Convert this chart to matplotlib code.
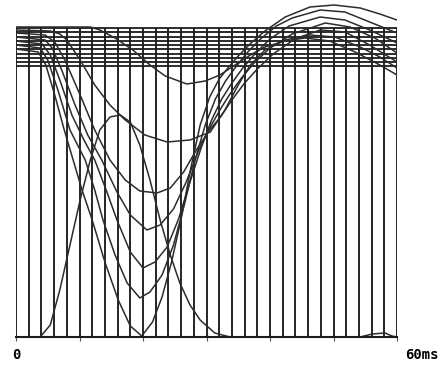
import matplotlib
matplotlib.use('Agg')
import matplotlib.pyplot as plt
import numpy as np

# time in ms, level in arbitrary units (0 = baseline, 309 = top of grid)
grid_t = np.arange(0, 61, 2)
grid_levels = [309, 305, 300, 296, 292, 288, 283, 279, 275, 271]
tick_t = [0, 10, 20, 30, 40, 50, 60]

# dipping curves, from deepest to shallowest
c8_t = [0, 3.5, 4.7, 6.1, 7.6, 9.0, 10.4, 12.0, 14.0, 16.1, 18.0, 19.8, 21.5, 23.0, 24.5,
        26.0, 27.5, 29.0, 30.5, 32.0, 33.5, 35.0, 37.0, 39.2, 42.4, 46.3, 50.1, 54.2, 57.3, 60]
c8_h = [288, 285, 272, 242, 207, 177, 147, 117, 75, 37, 11, 1, 15, 40, 75,
        118, 168, 212, 240, 258, 270, 281, 294, 306, 320, 330, 332, 329, 323, 317]

c7_t = [0, 3.8, 5.0, 6.6, 8.5, 10.9, 12.4, 13.7, 15.6, 17.5, 19.5, 21.1, 23.0, 24.8, 26.5,
        28.2, 29.8, 31.4, 33.0, 34.6, 36.5, 38.5, 41.0, 43.5, 47.9, 51.8, 55.7, 60]
c7_h = [292, 289, 277, 247, 207, 177, 147, 117, 82, 54, 39, 45, 62, 92, 132,
        177, 212, 238, 256, 270, 285, 298, 311, 319, 327, 325, 315, 304]

c6_t = [0, 4.1, 5.4, 6.9, 8.8, 10.7, 12.4, 14.2, 15.9, 18.0, 20.0, 21.9, 23.8, 25.6, 27.4,
        29.2, 30.8, 32.4, 34.0, 35.6, 37.6, 40.0, 43.0, 47.9, 51.8, 55.7, 60]
c6_h = [296, 293, 282, 257, 222, 197, 177, 147, 117, 85, 69, 75, 90, 118, 155,
        190, 217, 238, 254, 268, 283, 298, 311, 320, 317, 307, 294]

c5_t = [0, 4.6, 5.7, 7.2, 9.3, 11.3, 13.5, 15.9, 18.0, 20.6, 22.7, 24.8, 26.8, 28.8, 30.6,
        32.2, 33.8, 35.5, 37.5, 40.0, 43.5, 48.7, 52.6, 56.5, 60]
c5_h = [300, 297, 289, 267, 232, 202, 177, 145, 122, 107, 112, 128, 155, 187, 210,
        228, 244, 259, 274, 289, 303, 314, 310, 299, 284]

c4_t = [0, 4.6, 6.1, 7.7, 10.1, 12.4, 14.8, 17.2, 19.5, 22.2, 24.3, 26.4, 28.5, 30.5, 32.2,
        34.0, 36.0, 38.0, 40.5, 43.9, 47.9, 51.8, 55.7, 60]
c4_h = [304, 302, 295, 277, 242, 207, 177, 157, 146, 144, 149, 165, 188, 207, 220,
        237, 254, 268, 283, 298, 307, 305, 292, 275]

c2_t = [0, 5.4, 6.9, 8.0, 10.1, 12.4, 14.8, 17.2, 20.3, 23.8, 27.4, 30.6, 32.9, 35.0, 36.9,
        39.2, 42.4, 46.3, 50.2, 54.2, 57.3, 60]
c2_h = [307, 306, 303, 297, 277, 252, 232, 217, 202, 195, 197, 205, 227, 252, 272,
        287, 297, 302, 300, 290, 280, 269]

s_t = [0, 11.7, 13.2, 15.6, 18.4, 21.1, 23.5, 26.9, 29.8, 32.1, 34.5, 36.9, 39.2, 42.4,
       45.5, 49.4, 53.4, 57.3, 60]
s_h = [310, 310, 307, 299, 287, 272, 261, 253, 256, 262, 272, 282, 290, 296,
       299, 296, 285, 272, 262]

# single bump rising from the baseline
b_t = [0, 3.8, 5.4, 6.9, 8.5, 10.1, 11.7, 13.2, 14.8, 16.4, 18.0, 19.5, 21.1, 22.7, 24.3,
       25.8, 27.4, 29.0, 31.3, 33.7, 54.2, 56.1, 58.1, 59.2, 60]
b_h = [0, 0, 12, 47, 92, 137, 177, 207, 220, 222, 215, 192, 157, 117, 82,
       54, 32, 17, 4, 0, 0, 3, 4, 1, 0]

curves = [(c8_t, c8_h), (c7_t, c7_h), (c6_t, c6_h), (c5_t, c5_h),
          (c4_t, c4_h), (c2_t, c2_h), (s_t, s_h), (b_t, b_h)]

fig = plt.figure(figsize=(4.42, 3.66), dpi=100)
ax = fig.add_axes([16 / 442, 29 / 366, 381 / 442, 337 / 366])
ax.set_xlim(0, 60)
ax.set_ylim(0, 337)

grid_col = '#1c1c1c'
ax.vlines(grid_t, 0, 309, color=grid_col, linewidth=1.35)
ax.hlines(grid_levels, 0, 60, color=grid_col, linewidth=1.3)

for t, h in curves:
    ax.plot(t, h, color='#2c2c2c', linewidth=1.1, solid_joinstyle='round')

for s in ['top', 'right', 'left']:
    ax.spines[s].set_visible(False)
ax.spines['bottom'].set_color(grid_col)
ax.spines['bottom'].set_linewidth(1.5)
ax.set_yticks([])
ax.set_xticks(tick_t)
ax.set_xticklabels([])
ax.tick_params(axis='x', direction='out', length=3, width=0.8, colors='#555555')

ax.text(0, -18, '0', ha='center', va='center', fontsize=10,
        family='DejaVu Sans Mono', fontweight='bold', clip_on=False)
ax.text(61.3, -18, '60ms', ha='left', va='center', fontsize=10,
        family='DejaVu Sans Mono', fontweight='bold', clip_on=False)

plt.savefig('out.png', dpi=100)
